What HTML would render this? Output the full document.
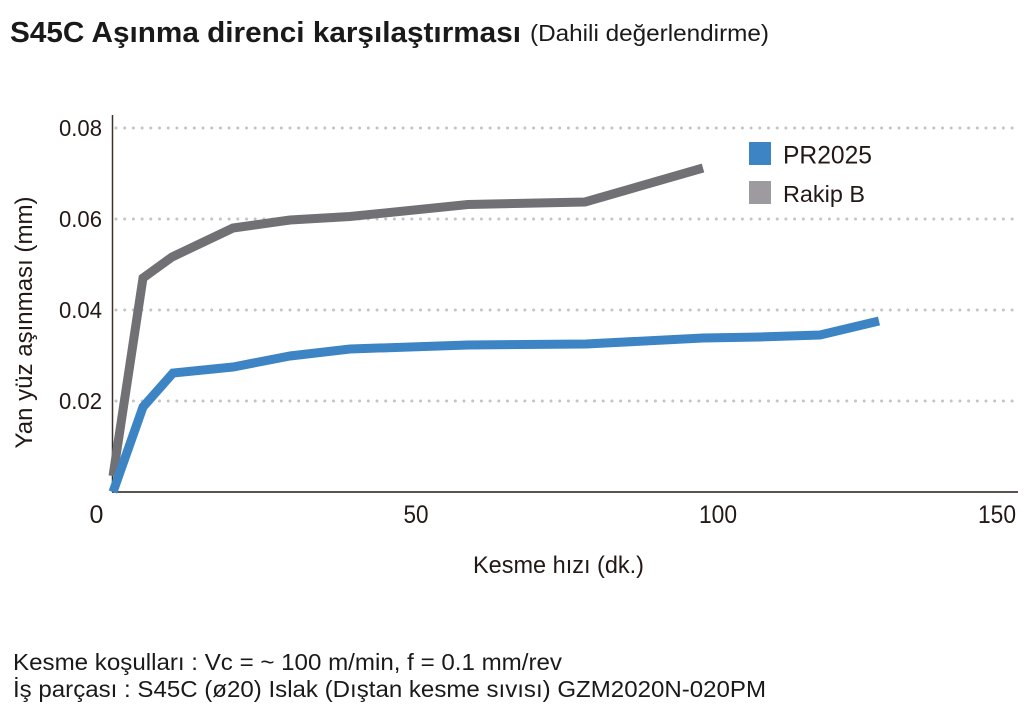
<!DOCTYPE html>
<html>
<head>
<meta charset="utf-8">
<style>
  html,body{margin:0;padding:0;background:#fff;}
  svg{display:block;}
  text{font-family:"Liberation Sans", Arial, sans-serif;}
</style>
</head>
<body>
<svg width="1026" height="725" viewBox="0 0 1026 725" xmlns="http://www.w3.org/2000/svg">
  <rect width="1026" height="725" fill="#ffffff"/>

  <!-- Title -->
  <text x="10" y="42" font-size="29" font-weight="bold" fill="#1a1a1a" textLength="511" lengthAdjust="spacingAndGlyphs">S45C Aşınma direnci karşılaştırması</text>
  <text x="530" y="41" font-size="23" fill="#1a1a1a" textLength="239" lengthAdjust="spacingAndGlyphs">(Dahili değerlendirme)</text>

  <!-- Gridlines (dotted) -->
  <g stroke="#c4c4c6" stroke-width="3" stroke-linecap="round" stroke-dasharray="0 8.7" fill="none">
    <line x1="116" y1="128" x2="1018" y2="128"/>
    <line x1="116" y1="219" x2="1018" y2="219"/>
    <line x1="116" y1="310" x2="1018" y2="310"/>
    <line x1="116" y1="401" x2="1018" y2="401"/>
  </g>

  <!-- Axes -->
  <line x1="112.5" y1="115" x2="112.5" y2="492" stroke="#3a302c" stroke-width="1.5"/>
  <line x1="112" y1="492" x2="1018" y2="492" stroke="#231815" stroke-width="1.6"/>

  <!-- Y tick labels -->
  <g font-size="23" fill="#231815" text-anchor="end">
    <text x="102" y="136" textLength="43" lengthAdjust="spacingAndGlyphs">0.08</text>
    <text x="102" y="227" textLength="43" lengthAdjust="spacingAndGlyphs">0.06</text>
    <text x="102" y="318" textLength="43" lengthAdjust="spacingAndGlyphs">0.04</text>
    <text x="102" y="409" textLength="43" lengthAdjust="spacingAndGlyphs">0.02</text>
  </g>

  <!-- X tick labels -->
  <g font-size="25" fill="#231815" text-anchor="middle">
    <text x="96.5" y="523">0</text>
    <text x="416" y="523" textLength="25" lengthAdjust="spacingAndGlyphs">50</text>
    <text x="718" y="523" textLength="38" lengthAdjust="spacingAndGlyphs">100</text>
    <text x="997" y="523" textLength="38" lengthAdjust="spacingAndGlyphs">150</text>
  </g>

  <!-- Axis titles -->
  <text x="473" y="573" font-size="24" fill="#231815" textLength="171" lengthAdjust="spacingAndGlyphs">Kesme hızı (dk.)</text>
  <text transform="translate(32,448.5) rotate(-90)" x="0" y="0" font-size="24" fill="#231815" textLength="252" lengthAdjust="spacingAndGlyphs">Yan yüz aşınması (mm)</text>

  <!-- Series: Rakip B (gray) -->
  <polyline fill="none" stroke="#717075" stroke-width="9" stroke-linejoin="miter" stroke-linecap="butt"
    points="113,476 143,278 172,257 233,228 290,220 350,216.5 468,204.5 585,202 703,168"/>

  <!-- Series: PR2025 (blue) -->
  <polyline fill="none" stroke="#3d84c4" stroke-width="9" stroke-linejoin="miter" stroke-linecap="butt"
    points="113,492 143,407 173,373 233,367 290,356 350,349 468,345 586,344 703,338 760,337 820,335 879,321"/>

  <!-- Legend -->
  <rect x="749" y="142" width="22" height="23" fill="#3d84c4"/>
  <rect x="749" y="181" width="22" height="23" fill="#9d9ba0"/>
  <text x="783" y="163.5" font-size="25" fill="#231815" textLength="89" lengthAdjust="spacingAndGlyphs">PR2025</text>
  <text x="783" y="202" font-size="23.5" fill="#231815" textLength="82" lengthAdjust="spacingAndGlyphs">Rakip B</text>

  <!-- Footnotes -->
  <text x="13" y="670" font-size="23.5" fill="#1a1a1a" textLength="549" lengthAdjust="spacingAndGlyphs">Kesme koşulları : Vc = ~ 100 m/min, f = 0.1 mm/rev</text>
  <text x="13" y="697" font-size="23.5" fill="#1a1a1a" textLength="753" lengthAdjust="spacingAndGlyphs">İş parçası : S45C (ø20) Islak (Dıştan kesme sıvısı) GZM2020N-020PM</text>
</svg>
</body>
</html>
